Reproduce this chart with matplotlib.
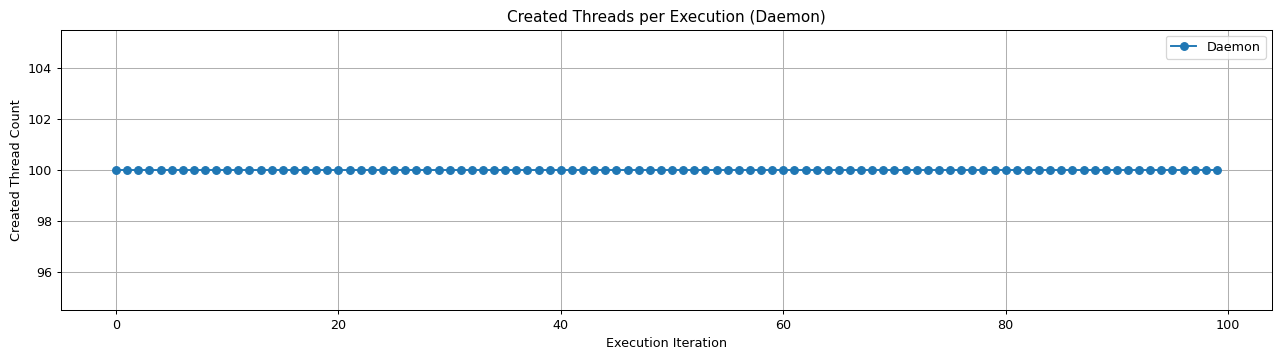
import matplotlib
matplotlib.use("Agg")
import matplotlib.pyplot as plt

# one value per execution iteration (0..99)
iterations = list(range(100))
thread_counts = [
    100, 100, 100, 100, 100, 100, 100, 100, 100, 100,
    100, 100, 100, 100, 100, 100, 100, 100, 100, 100,
    100, 100, 100, 100, 100, 100, 100, 100, 100, 100,
    100, 100, 100, 100, 100, 100, 100, 100, 100, 100,
    100, 100, 100, 100, 100, 100, 100, 100, 100, 100,
    100, 100, 100, 100, 100, 100, 100, 100, 100, 100,
    100, 100, 100, 100, 100, 100, 100, 100, 100, 100,
    100, 100, 100, 100, 100, 100, 100, 100, 100, 100,
    100, 100, 100, 100, 100, 100, 100, 100, 100, 100,
    100, 100, 100, 100, 100, 100, 100, 100, 100, 100,
]

W, H = 1280, 359
# original looks like a 14in wide figure shrunk to 1280px
dpi = W / 14
fig, ax = plt.subplots(figsize=(W / dpi, H / dpi), dpi=dpi)
ax.plot(iterations, thread_counts, marker='o', label='Daemon')
ax.set_title('Created Threads per Execution (Daemon)')
ax.set_xlabel('Execution Iteration')
ax.set_ylabel('Created Thread Count')
ax.grid(True)
ax.legend()
fig.subplots_adjust(left=61 / W, right=1272 / W, top=1 - 29.5 / H, bottom=1 - 310 / H)
plt.savefig('out.png')
